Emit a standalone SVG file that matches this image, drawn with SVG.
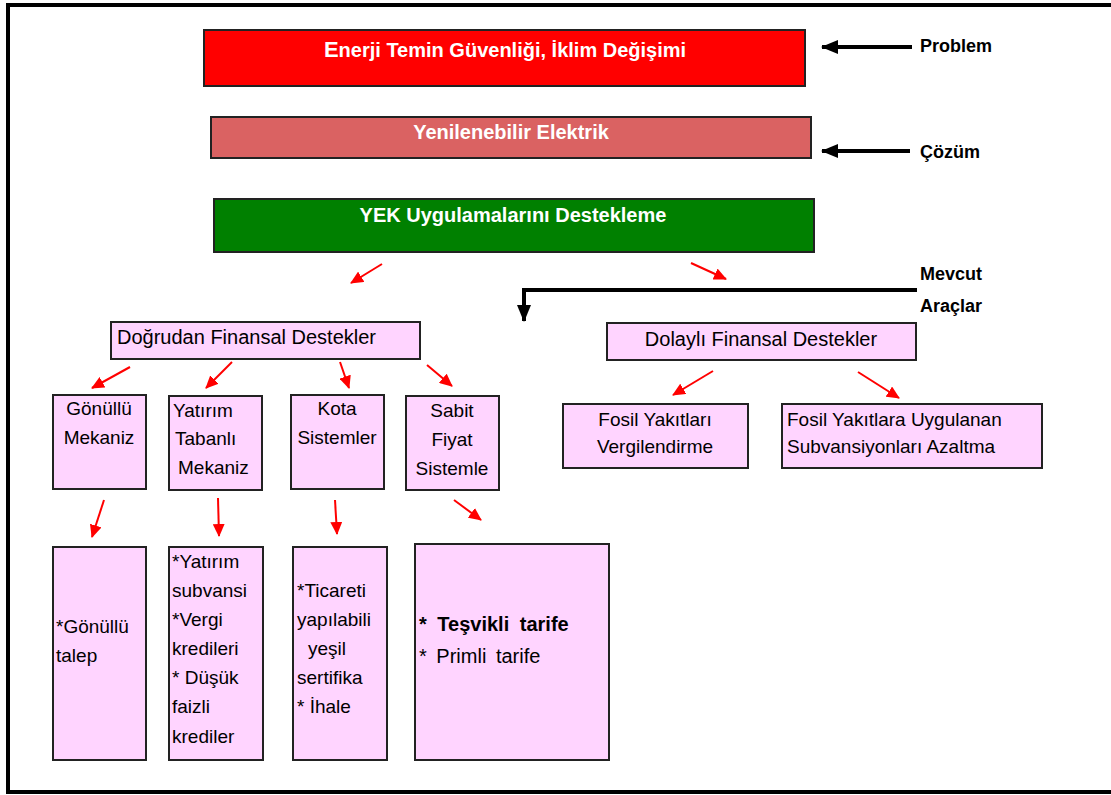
<svg xmlns="http://www.w3.org/2000/svg" width="1111" height="795" viewBox="0 0 1111 795">
<style>
text{font-family:"Liberation Sans",Arial,sans-serif;fill:#000}
.hd{font-weight:bold;font-size:20px;fill:#fff;text-anchor:middle}
.lb{font-weight:bold;font-size:18px}
.t{font-size:19px}
.m{font-size:20px}
.c{text-anchor:middle}
.pk{fill:#FFD4FF;stroke:#222;stroke-width:2}
.ra{stroke:#F00;stroke-width:2;fill:none;marker-end:url(#rh)}
.ba{stroke:#000;stroke-width:4;fill:none;marker-end:url(#bh)}
</style>
<defs>
<marker id="rh" markerUnits="userSpaceOnUse" markerWidth="13" markerHeight="12" refX="12" refY="6" orient="auto">
<path d="M0,0 L13,6 L0,12 z" fill="#F00"/>
</marker>
<marker id="bh" markerUnits="userSpaceOnUse" markerWidth="17" markerHeight="14" refX="16" refY="7" orient="auto">
<path d="M0,0 L17,7 L0,14 z" fill="#000"/>
</marker>
</defs>
<rect x="8" y="5" width="1112" height="787" fill="#fff" stroke="#000" stroke-width="4"/>

<g id="problem-box">
<rect x="204" y="30" width="601" height="56" fill="#F00" stroke="#222" stroke-width="2"/>
<text class="hd" x="505" y="57"><tspan font-size="22px">E</tspan>nerji Temin Güvenliği, İklim Değişimi</text>
</g>
<g id="solution-box">
<rect x="211" y="117" width="600" height="41" fill="#DA6262" stroke="#222" stroke-width="2"/>
<text class="hd" x="511" y="139">Yenilenebilir Elektrik</text>
</g>
<g id="yek-box">
<rect x="214" y="199" width="600" height="53" fill="#008000" stroke="#222" stroke-width="2"/>
<text class="hd" x="513" y="222">YEK Uygulamalarını Destekleme</text>
</g>

<g id="labels">
<text class="lb" x="920" y="52">Problem</text>
<text class="lb" x="920" y="158">Çözüm</text>
<text class="lb" x="920" y="280">Mevcut</text>
<text class="lb" x="920" y="312">Araçlar</text>
</g>

<g id="dogrudan">
<rect class="pk" x="111" y="322" width="309" height="37"/>
<text class="m" x="117" y="344">Doğrudan Finansal Destekler</text>
</g>
<g id="dolayli">
<rect class="pk" x="607" y="323" width="309" height="37"/>
<text class="m c" x="761" y="346">Dolaylı Finansal Destekler</text>
</g>

<g id="gonullu">
<rect class="pk" x="53" y="395" width="93" height="94"/>
<text class="t c" x="99" y="415">Gönüllü</text>
<text class="t c" x="99" y="444">Mekaniz</text>
</g>
<g id="yatirim">
<rect class="pk" x="169" y="396" width="93" height="94"/>
<text class="t" x="173" y="417">Yatırım</text>
<text class="t" x="175" y="445">Tabanlı</text>
<text class="t" x="178" y="474">Mekaniz</text>
</g>
<g id="kota">
<rect class="pk" x="291" y="395" width="93" height="94"/>
<text class="t c" x="337" y="415">Kota</text>
<text class="t c" x="337" y="444">Sistemler</text>
</g>
<g id="sabit">
<rect class="pk" x="406" y="396" width="93" height="94"/>
<text class="t c" x="452" y="417">Sabit</text>
<text class="t c" x="452" y="446">Fiyat</text>
<text class="t c" x="452" y="475">Sistemle</text>
</g>
<g id="fosil-vergi">
<rect class="pk" x="563" y="404" width="185" height="64"/>
<text class="t c" x="655" y="426">Fosil Yakıtları</text>
<text class="t c" x="655" y="453">Vergilendirme</text>
</g>
<g id="fosil-subvansiyon">
<rect class="pk" x="782" y="404" width="260" height="64"/>
<text class="t" x="787" y="426">Fosil Yakıtlara Uygulanan</text>
<text class="t" x="787" y="453">Subvansiyonları Azaltma</text>
</g>

<g id="gonullu-talep">
<rect class="pk" x="53" y="547" width="93" height="213"/>
<text class="t" x="56" y="633">*Gönüllü</text>
<text class="t" x="56" y="662">talep</text>
</g>
<g id="yatirim-list">
<rect class="pk" x="169" y="547" width="94" height="213"/>
<text class="t" x="172" y="568">*Yatırım</text>
<text class="t" x="172" y="597">subvansi</text>
<text class="t" x="172" y="626">*Vergi</text>
<text class="t" x="172" y="655">kredileri</text>
<text class="t" x="172" y="684">* Düşük</text>
<text class="t" x="172" y="713">faizli</text>
<text class="t" x="172" y="743">krediler</text>
</g>
<g id="kota-list">
<rect class="pk" x="293" y="547" width="94" height="213"/>
<text class="t" x="297" y="597">*Ticareti</text>
<text class="t" x="297" y="626">yapılabili</text>
<text class="t" x="308" y="655">yeşil</text>
<text class="t" x="297" y="684">sertifika</text>
<text class="t" x="297" y="713">* İhale</text>
</g>
<g id="sabit-list">
<rect class="pk" x="415" y="544" width="194" height="216"/>
<text x="419" y="631" font-size="20px" font-weight="bold" word-spacing="5">* Teşvikli tarife</text>
<text x="419" y="663" font-size="20px" word-spacing="4">* Primli tarife</text>
</g>

<g id="connectors">
<line class="ba" x1="912" y1="47" x2="822" y2="47"/>
<line class="ba" x1="910" y1="151" x2="822" y2="151"/>
<path class="ba" d="M917,290 H524 V321"/>
<line class="ra" x1="382" y1="264" x2="351" y2="283"/>
<line class="ra" x1="691" y1="263" x2="726" y2="279"/>
<line class="ra" x1="130" y1="367" x2="92" y2="388"/>
<line class="ra" x1="232" y1="362" x2="206" y2="388"/>
<line class="ra" x1="340" y1="362" x2="349" y2="388"/>
<line class="ra" x1="427" y1="365" x2="452" y2="386"/>
<line class="ra" x1="713" y1="371" x2="673" y2="395"/>
<line class="ra" x1="858" y1="372" x2="899" y2="398"/>
<line class="ra" x1="104" y1="500" x2="92" y2="537"/>
<line class="ra" x1="218" y1="498" x2="219" y2="536"/>
<line class="ra" x1="335" y1="500" x2="337" y2="534"/>
<line class="ra" x1="454" y1="500" x2="481" y2="520"/>
</g>
</svg>
